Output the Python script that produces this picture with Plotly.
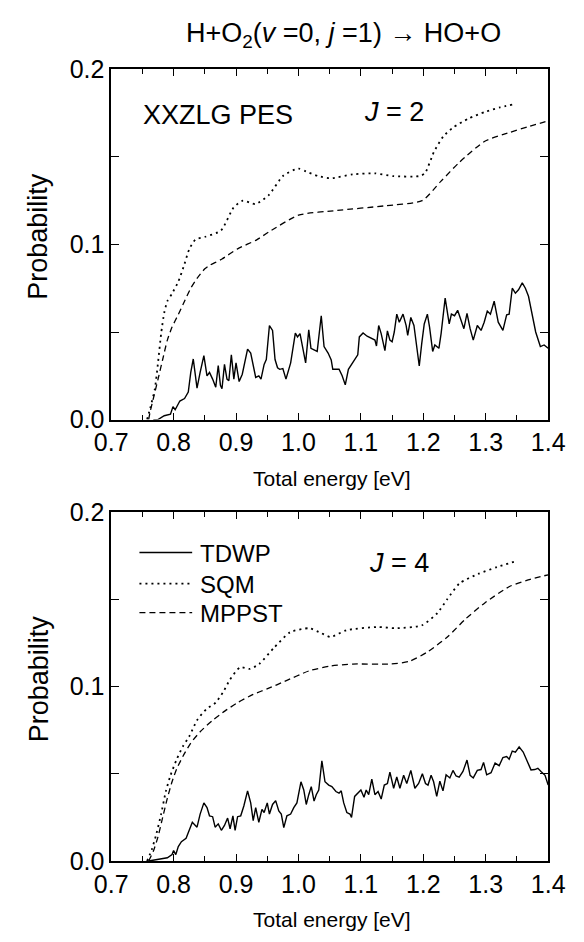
import plotly.graph_objects as go

# ---------------- data: J = 2 (top panel) ----------------
e_tdwp_j2 = [0.7675, 0.775, 0.785, 0.795, 0.799, 0.8025, 0.81, 0.8175, 0.8235, 0.8275, 0.8315, 0.8375,
             0.8425, 0.8485, 0.8535, 0.8575, 0.8625, 0.8675, 0.8715, 0.875, 0.8775, 0.8815, 0.8855, 0.8885,
             0.8925, 0.8965, 0.90, 0.905, 0.91, 0.9185, 0.9235, 0.9275, 0.9315, 0.9365, 0.94, 0.945, 0.9485,
             0.9535, 0.9585, 0.9625, 0.9665, 0.97, 0.975, 0.98, 0.9875, 0.995, 0.9985, 1.0025, 1.0075, 1.0115,
             1.0165, 1.02, 1.025, 1.03, 1.0365, 1.041, 1.0475, 1.0525, 1.055, 1.06, 1.065, 1.07, 1.075, 1.08,
             1.085, 1.09, 1.095, 1.0975, 1.1035, 1.11, 1.1175, 1.1225, 1.125, 1.1285, 1.1325, 1.1385, 1.1425,
             1.1465, 1.15, 1.1535, 1.1575, 1.1615, 1.1675, 1.1725, 1.175, 1.18, 1.185, 1.189, 1.1935, 1.1975,
             1.2015, 1.2065, 1.21, 1.215, 1.2185, 1.225, 1.2285, 1.235, 1.2415, 1.245, 1.25, 1.255, 1.26, 1.265,
             1.27, 1.275, 1.28, 1.2865, 1.2925, 1.2975, 1.3025, 1.3075, 1.3135, 1.32, 1.3275, 1.3335, 1.3375,
             1.3425, 1.3475, 1.3525, 1.3585, 1.3635, 1.3685, 1.375, 1.38, 1.3875, 1.3935, 1.40]
p_tdwp_j2 = [0.0, 0.0, 0.0022, 0.0031, 0.0074, 0.0056, 0.0106, 0.012, 0.0157, 0.0269, 0.0346, 0.018,
             0.0269, 0.0365, 0.025, 0.0269, 0.0231, 0.0185, 0.0309, 0.0196, 0.0176, 0.0315, 0.0231, 0.0222,
             0.037, 0.0231, 0.0324, 0.0217, 0.0259, 0.0402, 0.038, 0.0306, 0.0241, 0.025, 0.0231, 0.0315, 0.0343,
             0.0537, 0.0509, 0.0343, 0.0296, 0.0287, 0.0291, 0.0231, 0.0324, 0.0494, 0.0472, 0.0491, 0.0407, 0.0324,
             0.0513, 0.0407, 0.0398, 0.0389, 0.0593, 0.0417, 0.038, 0.034, 0.0287, 0.0287, 0.0287, 0.025, 0.0198, 0.0287,
             0.0315, 0.0343, 0.037, 0.0472, 0.0494, 0.0476, 0.0463, 0.0454, 0.042, 0.0537, 0.0491, 0.0394, 0.0506,
             0.0454, 0.0444, 0.05, 0.0602, 0.0556, 0.0602, 0.0537, 0.0481, 0.0583, 0.0537, 0.0435, 0.0306, 0.0435,
             0.0546, 0.0602, 0.0528, 0.0389, 0.0426, 0.0407, 0.0491, 0.0694, 0.0546, 0.0602, 0.0593, 0.0624, 0.0574, 0.0519,
             0.0606, 0.0519, 0.0454, 0.0537, 0.0509, 0.0556, 0.062, 0.0602, 0.0676, 0.0556, 0.0509, 0.0598, 0.0602,
             0.075, 0.0722, 0.0741, 0.0781, 0.075, 0.0704, 0.0593, 0.05, 0.0417, 0.0426, 0.0407]

e_sqm_j2 = [0.7575, 0.7625, 0.77, 0.775, 0.78, 0.785, 0.79, 0.7975, 0.8075, 0.8175, 0.825, 0.835, 0.851,
            0.876, 0.896, 0.911, 0.931, 0.952, 0.976, 1.0, 1.012, 1.032, 1.052, 1.087, 1.122, 1.152, 1.193,
            1.2025, 1.217, 1.232, 1.2475, 1.273, 1.2985, 1.323, 1.344]
p_sqm_j2 = [0.0, 0.0065, 0.0176, 0.0324, 0.049, 0.061, 0.0676, 0.072, 0.0787, 0.0889, 0.0972, 0.1028, 0.1044,
            0.108, 0.121, 0.125, 0.123, 0.128, 0.1394, 0.1433, 0.1417, 0.139, 0.1378, 0.14, 0.1406, 0.139, 0.139,
            0.1406, 0.1528, 0.1617, 0.1667, 0.172, 0.1756, 0.1783, 0.18]

e_mppst_j2 = [0.76, 0.7625, 0.7675, 0.775, 0.7825, 0.79, 0.7975, 0.8075, 0.8175, 0.8275, 0.8375, 0.85, 0.8575,
              0.8775, 0.9025, 0.9325, 0.952, 1.0, 1.062, 1.137, 1.198, 1.228, 1.258, 1.2985, 1.338, 1.368, 1.4]
p_mppst_j2 = [0.0, 0.0046, 0.012, 0.023, 0.0343, 0.0454, 0.0528, 0.06, 0.0676, 0.075, 0.0806, 0.0861, 0.088,
              0.0917, 0.0975, 0.1025, 0.107, 0.1167, 0.1194, 0.122, 0.125, 0.136, 0.147, 0.1589, 0.1639, 0.1672, 0.1706]

# ---------------- data: J = 4 (bottom panel) ----------------
e_tdwp_j4 = [0.76, 0.775, 0.79, 0.7975, 0.80, 0.8035, 0.8075, 0.8125, 0.82, 0.825, 0.83, 0.8375, 0.8425,
             0.8485, 0.8535, 0.8575, 0.8625, 0.8665, 0.8715, 0.8765, 0.8815, 0.8865, 0.8905, 0.895, 0.8985,
             0.9025, 0.9075, 0.9125, 0.9185, 0.9235, 0.9275, 0.9315, 0.9365, 0.9415, 0.945, 0.95, 0.9535,
             0.9585, 0.9635, 0.9685, 0.9725, 0.9765, 0.9815, 0.9875, 0.9925, 0.9975, 1.004, 1.0085, 1.0125,
             1.0165, 1.0205, 1.025, 1.0285, 1.0325, 1.0375, 1.0425, 1.0485, 1.0535, 1.06, 1.065, 1.0685, 1.0725,
             1.0775, 1.0825, 1.085, 1.09, 1.095, 1.10, 1.105, 1.1085, 1.1125, 1.1175, 1.1225, 1.1275, 1.1325,
             1.1375, 1.1425, 1.1465, 1.1525, 1.1575, 1.1625, 1.1685, 1.1735, 1.18, 1.1865, 1.1925, 1.1985,
             1.2035, 1.2075, 1.2125, 1.2165, 1.2215, 1.2265, 1.2315, 1.2365, 1.2425, 1.2475, 1.2525, 1.2575,
             1.2635, 1.27, 1.275, 1.28, 1.2865, 1.2925, 1.2965, 1.3015, 1.3085, 1.315, 1.3215, 1.3275, 1.3335,
             1.3375, 1.3425, 1.3475, 1.3535, 1.36, 1.3675, 1.3725, 1.3785, 1.3835, 1.3885, 1.395, 1.40]
p_tdwp_j4 = [0.0, 0.0009, 0.0019, 0.0037, 0.006, 0.0037, 0.0083, 0.0111, 0.013, 0.0176, 0.0222, 0.0194, 0.0269,
             0.0333, 0.0306, 0.0259, 0.0254, 0.0194, 0.0213, 0.0176, 0.0204, 0.0246, 0.0185, 0.0259, 0.0176,
             0.0254, 0.0259, 0.0315, 0.0402, 0.0333, 0.0231, 0.0306, 0.0222, 0.0296, 0.0278, 0.0333, 0.0269,
             0.0324, 0.0346, 0.0287, 0.0269, 0.0191, 0.0259, 0.0269, 0.0306, 0.0333, 0.0454, 0.0407, 0.0324,
             0.038, 0.0426, 0.0343, 0.038, 0.0407, 0.0574, 0.0454, 0.0435, 0.0426, 0.0398, 0.0389, 0.0402, 0.0333,
             0.0278, 0.0269, 0.025, 0.037, 0.0389, 0.0407, 0.0365, 0.0407, 0.038, 0.0469, 0.038, 0.0398, 0.0355,
             0.0435, 0.0444, 0.0509, 0.0417, 0.0481, 0.0417, 0.0491, 0.0444, 0.0519, 0.0417, 0.0444, 0.05,
             0.0444, 0.0435, 0.0491, 0.0454, 0.037, 0.0457, 0.0402, 0.0494, 0.0476, 0.0519, 0.0487, 0.0481,
             0.0513, 0.0578, 0.0491, 0.0476, 0.0519, 0.0524, 0.0565, 0.0494, 0.0506, 0.0561, 0.0546, 0.0593, 0.0598,
             0.0583, 0.063, 0.0624, 0.0654, 0.0624, 0.0565, 0.0522, 0.0524, 0.0531, 0.0513, 0.0491, 0.0435]

e_sqm_j4 = [0.7575, 0.765, 0.7725, 0.78, 0.7875, 0.795, 0.805, 0.815, 0.825, 0.8375, 0.8525, 0.8675, 0.88,
            0.89, 0.9066, 0.922, 0.937, 0.961, 0.9866, 1.017, 1.036, 1.0515, 1.077, 1.127, 1.157, 1.198, 1.223,
            1.2385, 1.258, 1.288, 1.318, 1.3485]
p_sqm_j4 = [0.0, 0.0065, 0.0157, 0.0269, 0.0398, 0.049, 0.0583, 0.0657, 0.0713, 0.0806, 0.087, 0.0907, 0.0972,
            0.1037, 0.111, 0.11, 0.1128, 0.1222, 0.131, 0.1333, 0.1306, 0.1283, 0.1322, 0.134, 0.1333, 0.135, 0.1422,
            0.15, 0.159, 0.1644, 0.1683, 0.1717]

e_mppst_j4 = [0.76, 0.7675, 0.775, 0.7825, 0.79, 0.7975, 0.805, 0.815, 0.8275, 0.8425, 0.8625, 0.8825, 0.9025,
              0.9275, 0.9525, 0.9775, 1.017, 1.0515, 1.087, 1.148, 1.178, 1.208, 1.2385, 1.2685, 1.2985, 1.338,
              1.368, 1.4]
p_mppst_j4 = [0.0, 0.0056, 0.0139, 0.025, 0.036, 0.0454, 0.0528, 0.06, 0.0676, 0.074, 0.0806, 0.086, 0.0907,
              0.0954, 0.099, 0.1028, 0.1089, 0.1117, 0.1128, 0.1128, 0.1144, 0.12, 0.1283, 0.1389, 0.1478, 0.1572,
              0.161, 0.1639]

series_names = ["TDWP", "SQM", "MPPST"]
x_ticks = [0.7, 0.8, 0.9, 1.0, 1.1, 1.2, 1.3, 1.4]
y_ticks = [0.0, 0.1, 0.2]

# ---------------- figure ----------------
W, H = 584, 942
FONT = "Liberation Sans, Arial, Helvetica, sans-serif"


def px(x):
    return x / W


def py(y):
    return 1 - y / H


styles = {
    "TDWP": dict(color="black", width=1.4, dash="solid"),
    "SQM": dict(color="black", width=1.8, dash="2px,4px"),
    "MPPST": dict(color="black", width=1.3, dash="6px,4px"),
}

fig = go.Figure()
panels = [
    ("x", "y", (e_tdwp_j2, p_tdwp_j2), (e_sqm_j2, p_sqm_j2), (e_mppst_j2, p_mppst_j2)),
    ("x2", "y2", (e_tdwp_j4, p_tdwp_j4), (e_sqm_j4, p_sqm_j4), (e_mppst_j4, p_mppst_j4)),
]
for xa, ya, t, s, m in panels:
    for name, (ex, pv) in zip(series_names, (t, s, m)):
        fig.add_trace(go.Scatter(
            x=ex, y=pv, mode="lines", name=name, xaxis=xa, yaxis=ya, showlegend=False,
            line=dict(color=styles[name]["color"], width=styles[name]["width"], dash=styles[name]["dash"],
                      shape="linear" if name == "TDWP" else "spline", smoothing=0.6),
        ))

xdom = [px(100), px(564)]
top_dom = [py(418), py(57)]
bot_dom = [py(873), py(513)]

axis_common = dict(
    showline=True, linecolor="black", linewidth=1.5, mirror="ticks",
    ticks="inside", tickcolor="black", tickwidth=1.3, showgrid=False, zeroline=False,
    tickfont=dict(family=FONT, size=25, color="black"),
)
xaxis_common = dict(axis_common, range=[0.7, 1.4], tickvals=x_ticks, tickformat=".1f", ticklen=7,
                    minor=dict(dtick=0.05, tick0=0.7, ticks="inside", ticklen=5, tickcolor="black", tickwidth=1.2,
                               showgrid=False),
                    domain=xdom)
yaxis_common = dict(axis_common, range=[0, 0.2], tickvals=y_ticks, tickformat=".1f", ticklen=8,
                    minor=dict(dtick=0.05, tick0=0, ticks="inside", ticklen=8, tickcolor="black", tickwidth=1.2,
                               showgrid=False))

fig.update_layout(
    width=W, height=H, margin=dict(l=0, r=0, t=0, b=0),
    paper_bgcolor="white", plot_bgcolor="white", showlegend=False,
    xaxis=dict(xaxis_common, anchor="y"),
    yaxis=dict(yaxis_common, domain=top_dom, anchor="x"),
    xaxis2=dict(xaxis_common, anchor="y2"),
    yaxis2=dict(yaxis_common, domain=bot_dom, anchor="x2"),
)

ann = []


def text(x, y, s, size, xanchor="center", angle=0):
    ann.append(dict(x=px(x), y=py(y), xref="paper", yref="paper", text=s, showarrow=False,
                    xanchor=xanchor, yanchor="middle", textangle=angle,
                    font=dict(family=FONT, size=size, color="black")))


text(347, 22, "H+O<sub>2</sub>(<i>v</i> =0, <i>j</i> =1) → HO+O", 27)
text(23, 229, "Probability", 27, angle=-90)
text(23, 685, "Probability", 27, angle=-90)
text(334, 479, "Total energy [eV]", 21)
text(334, 933, "Total energy [eV]", 21)
text(132, 104, "XXZLG PES", 27, xanchor="left")
text(366, 101, "<i>J</i> = 2", 27, xanchor="left")
text(372, 566, "<i>J</i> = 4", 27, xanchor="left")

legend_rows = [555, 587, 617]
shapes = []
for name, yy in zip(series_names, legend_rows):
    shapes.append(dict(type="line", xref="paper", yref="paper", x0=px(130), x1=px(186), y0=py(yy), y1=py(yy),
                       line=dict(color="black", width=styles[name]["width"], dash=styles[name]["dash"])))
    text(192, yy + 1, name, 24, xanchor="left")

fig.update_layout(annotations=ann, shapes=shapes)
fig.write_html("out.html")
